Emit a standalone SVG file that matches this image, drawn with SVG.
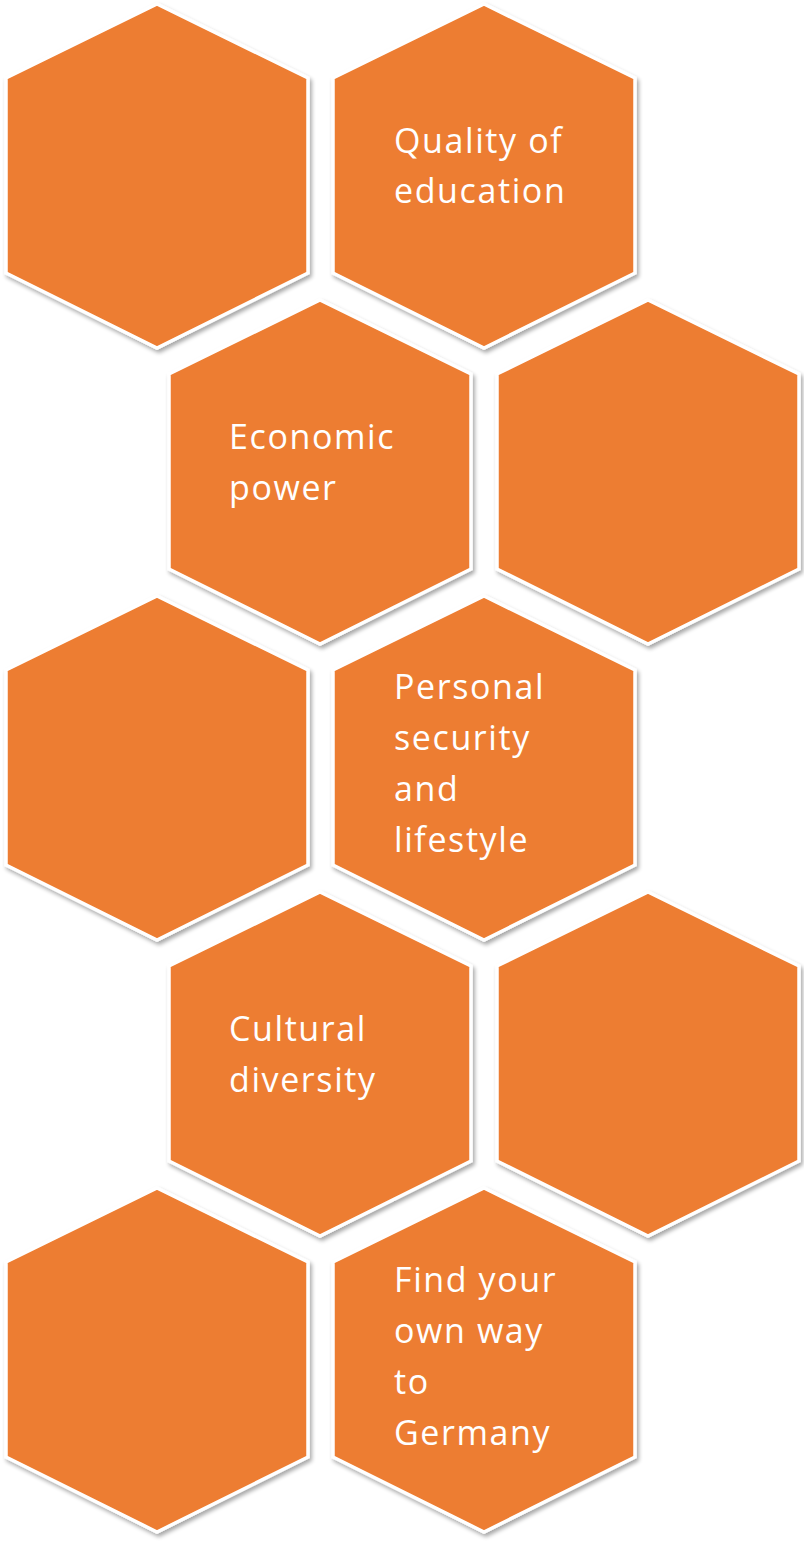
<svg xmlns="http://www.w3.org/2000/svg" width="804" height="1543" viewBox="0 0 804 1543">
<defs>
<filter id="sh" x="-10%" y="-10%" width="120%" height="120%">
<feGaussianBlur in="SourceAlpha" stdDeviation="2"/>
<feOffset dx="1.5" dy="2.5" result="b"/>
<feComponentTransfer><feFuncA type="linear" slope="0.35"/></feComponentTransfer>
<feMerge><feMergeNode/><feMergeNode in="SourceGraphic"/></feMerge>
</filter>
<path id="hex" d="M0,0 L151,74 L151,269 L0,344 L-151,269 L-151,74 Z"/>
</defs>
<style>
.h{fill:#ED7D31;stroke:#FFFFFF;stroke-width:3.5;stroke-linejoin:miter;filter:url(#sh)}
.t{fill:#FFFFFF;font-family:"Open Sans","Noto Sans","Liberation Sans",sans-serif;font-size:34px;letter-spacing:1.6px}
</style>
<rect width="804" height="1543" fill="#FFFFFF"/>
<g id="hex1"><use href="#hex" class="h" x="157" y="4"/></g>
<g id="hex2"><use href="#hex" class="h" x="484" y="4"/><text class="t" x="394" y="153">Quality of</text><text class="t" x="394" y="203">education</text></g>
<g id="hex3"><use href="#hex" class="h" x="320" y="300"/><text class="t" x="229" y="449">Economic</text><text class="t" x="229" y="500">power</text></g>
<g id="hex4"><use href="#hex" class="h" x="648" y="300"/></g>
<g id="hex5"><use href="#hex" class="h" x="157" y="596"/></g>
<g id="hex6"><use href="#hex" class="h" x="484" y="596"/><text class="t" x="394" y="699">Personal</text><text class="t" x="394" y="750">security</text><text class="t" x="394" y="801">and</text><text class="t" x="394" y="852">lifestyle</text></g>
<g id="hex7"><use href="#hex" class="h" x="320" y="892"/><text class="t" x="229" y="1041">Cultural</text><text class="t" x="229" y="1092">diversity</text></g>
<g id="hex8"><use href="#hex" class="h" x="648" y="892"/></g>
<g id="hex9"><use href="#hex" class="h" x="157" y="1188"/></g>
<g id="hex10"><use href="#hex" class="h" x="484" y="1188"/><text class="t" x="394" y="1292">Find your</text><text class="t" x="394" y="1343">own way</text><text class="t" x="394" y="1394">to</text><text class="t" x="394" y="1445">Germany</text></g>
<g id="connectors"/>
</svg>
